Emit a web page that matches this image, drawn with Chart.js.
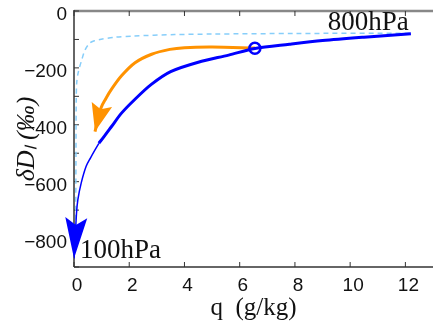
<!DOCTYPE html>
<html>
<head>
<meta charset="UTF-8">
<title>deltaD vs q</title>
<style>
  body { margin: 0; background: #fff; }
</style>
</head>
<body>
<canvas id="chart" width="433" height="323"></canvas>
<script src="https://cdn.jsdelivr.net/npm/chart.js"></script>
<script>
// main curve, thick part (800hPa end -> ~0.9 g/kg)
const blueQ = [12.2, 10.5, 9.0, 7.8, 6.55, 5.6, 4.5, 3.5, 2.8, 2.2, 1.72, 1.36, 1.1, 0.9];
const blueD = [-80, -92, -104, -117, -132, -155, -180, -213, -258, -311, -359, -406, -440, -465];
// thin tail down to 100hPa (arrow at the end)
const tailQ = [0.9, 0.75, 0.6, 0.44, 0.26, 0.14, 0.09, 0];
const tailD = [-465, -490, -516, -546, -605, -663, -712, -870];
// orange branch leaving the circle
const orangeQ = [6.55, 5.0, 4.0, 3.47, 2.81, 2.21, 1.72, 1.36, 1.14, 0.98, 0.76];
const orangeD = [-130, -127, -129, -135, -152, -182, -228, -275, -310, -340, -424];
// light blue dashed curve
const dashQ = [12.15, 8, 5, 3.65, 2.14, 1.48, 0.94, 0.76, 0.58, 0.4, 0.28, 0.16, 0.1, 0.08, 0.07, 0.06];
const dashD = [-78, -79, -81, -83, -88, -92, -100, -104, -112, -137, -172, -213, -250, -320, -550, -800];
// open circle
const markQ = [6.55];
const markD = [-131];
// text notes
const noteText = ['800hPa', '100hPa'];
const noteQ = [9.19, 0.22];
const noteD = [-67, -867];
// axes
const xTicks = [0, 2, 4, 6, 8, 10, 12];
const yTicks = [0, -100, -200, -300, -400, -500, -600, -700, -800, -900];
const yLabelled = [0, -200, -400, -600, -800];

function pts(q, d) {
  return q.map((v, i) => ({x: v, y: d[i]}));
}

// tick labels may overflow, the plot box stays where the layout puts it
function noPad(s) {
  s.paddingTop = 0;
  s.paddingBottom = 0;
  s.paddingLeft = 0;
  s.paddingRight = 0;
}

// arrow heads (only datasets with .arrow)
const arrowPlugin = {
  id: 'arrows',
  afterDatasetsDraw(chart) {
    const ctx = chart.ctx;
    chart.data.datasets.forEach((ds, i) => {
      if (!ds.arrow) return;
      const el = chart.getDatasetMeta(i).data;
      const tip = el[el.length - 1], prev = el[el.length - 2];
      let dx = tip.x - prev.x, dy = tip.y - prev.y;
      const len = Math.hypot(dx, dy);
      dx /= len; dy /= len;
      const L = ds.arrow.length, W = ds.arrow.width / 2;
      const bx = tip.x - dx * L, by = tip.y - dy * L;
      const nx = tip.x - dx * L * 0.82, ny = tip.y - dy * L * 0.82;
      ctx.save();
      ctx.fillStyle = ds.borderColor;
      ctx.beginPath();
      ctx.moveTo(tip.x, tip.y);
      ctx.lineTo(bx - dy * W, by + dx * W);
      ctx.lineTo(nx, ny);
      ctx.lineTo(bx + dy * W, by - dx * W);
      ctx.closePath();
      ctx.fill();
      ctx.restore();
    });
  }
};

// frame with inward ticks
const framePlugin = {
  id: 'frame',
  beforeDatasetsDraw(chart) {
    const {ctx, chartArea: a, scales: {x, y}} = chart;
    const line = (x1, y1, x2, y2) => { ctx.beginPath(); ctx.moveTo(x1, y1); ctx.lineTo(x2, y2); ctx.stroke(); };
    ctx.save();
    ctx.strokeStyle = '#888';
    ctx.lineWidth = 2.5;
    line(a.left, a.top, a.right, a.top);
    ctx.strokeStyle = '#333';
    ctx.lineWidth = 1.5;
    line(a.left, a.top - 1, a.left, a.bottom);
    line(a.left, a.bottom, a.right, a.bottom);
    ctx.lineWidth = 1;
    x.ticks.forEach(t => {
      const px = x.getPixelForValue(t.value);
      line(px, a.bottom, px, a.bottom - 5);
      line(px, a.top, px, a.top + 5);
    });
    y.ticks.forEach(t => {
      const py = y.getPixelForValue(t.value);
      line(a.left, py, a.left + 5, py);
    });
    ctx.restore();
  }
};

const notePlugin = {
  id: 'notes',
  afterDatasetsDraw(chart) {
    const {ctx, scales: {x, y}} = chart;
    ctx.save();
    ctx.font = '27px "Liberation Serif"';
    ctx.fillStyle = '#111';
    ctx.textAlign = 'left';
    ctx.textBaseline = 'alphabetic';
    noteText.forEach((t, i) => {
      ctx.fillText(t, x.getPixelForValue(noteQ[i]), y.getPixelForValue(noteD[i]));
    });
    ctx.restore();
  }
};

function fmt(v) {
  return v < 0 ? '\u2212' + Math.abs(v) : String(v);
}

const ctx = document.getElementById('chart').getContext('2d');
new Chart(ctx, {
  type: 'line',
  data: {
    datasets: [
      {
        label: 'mark',
        data: pts(markQ, markD),
        showLine: false,
        pointRadius: 5.5,
        pointBorderWidth: 2.5,
        pointBorderColor: '#0000ff',
        pointBackgroundColor: 'rgba(255,255,255,0)'
      },
      {
        label: 'blue',
        data: pts(blueQ, blueD),
        borderColor: '#0000ff',
        borderWidth: 3,
        tension: 0.3,
        pointRadius: 0
      },
      {
        label: 'tail',
        data: pts(tailQ, tailD),
        borderColor: '#0000ff',
        borderWidth: 1.5,
        tension: 0.3,
        pointRadius: 0,
        arrow: {length: 41, width: 22}
      },
      {
        label: 'orange',
        data: pts(orangeQ, orangeD),
        borderColor: '#ff9200',
        borderWidth: 3,
        tension: 0.3,
        pointRadius: 0,
        arrow: {length: 28, width: 21}
      },
      {
        label: 'dashed',
        data: pts(dashQ, dashD),
        borderColor: '#87cefa',
        borderWidth: 1.5,
        borderDash: [5, 4],
        tension: 0.3,
        pointRadius: 0
      }
    ]
  },
  options: {
    responsive: false,
    animation: false,
    layout: {autoPadding: false, padding: {top: 11, right: 0, left: 0, bottom: 0}},
    plugins: {legend: {display: false}, tooltip: {enabled: false}},
    scales: {
      x: {
        type: 'linear',
        min: 0,
        max: 13,
        afterBuildTicks: s => { s.ticks = xTicks.map(v => ({value: v})); },
        afterFit: s => { s.height = 56; noPad(s); },
        grid: {display: false, drawTicks: false},
        border: {display: false},
        ticks: {
          autoSkip: false,
          maxRotation: 0,
          padding: 7,
          labelOffset: 3,
          color: '#111',
          font: {family: 'Liberation Sans', size: 19}
        },
        title: {
          display: true,
          text: 'q  (g/kg)',
          color: '#111',
          font: {family: 'Liberation Serif', size: 25},
          padding: {top: 0, bottom: 0}
        }
      },
      y: {
        type: 'linear',
        min: -900,
        max: 0,
        afterBuildTicks: s => { s.ticks = yTicks.map(v => ({value: v})); },
        afterFit: s => { s.width = 74; noPad(s); },
        grid: {display: false, drawTicks: false},
        border: {display: false},
        ticks: {
          autoSkip: false,
          padding: 7,
          labelOffset: 4,
          color: '#111',
          font: {family: 'Liberation Sans', size: 19},
          callback: v => yLabelled.includes(v) ? fmt(v) : ''
        },
        title: {
          display: true,
          text: 'δDₗ (‰)',
          color: '#111',
          font: {family: 'Liberation Serif', size: 26, style: 'italic'},
          padding: {top: 12, bottom: 0}
        }
      }
    }
  },
  plugins: [framePlugin, arrowPlugin, notePlugin]
});
</script>
</body>
</html>
